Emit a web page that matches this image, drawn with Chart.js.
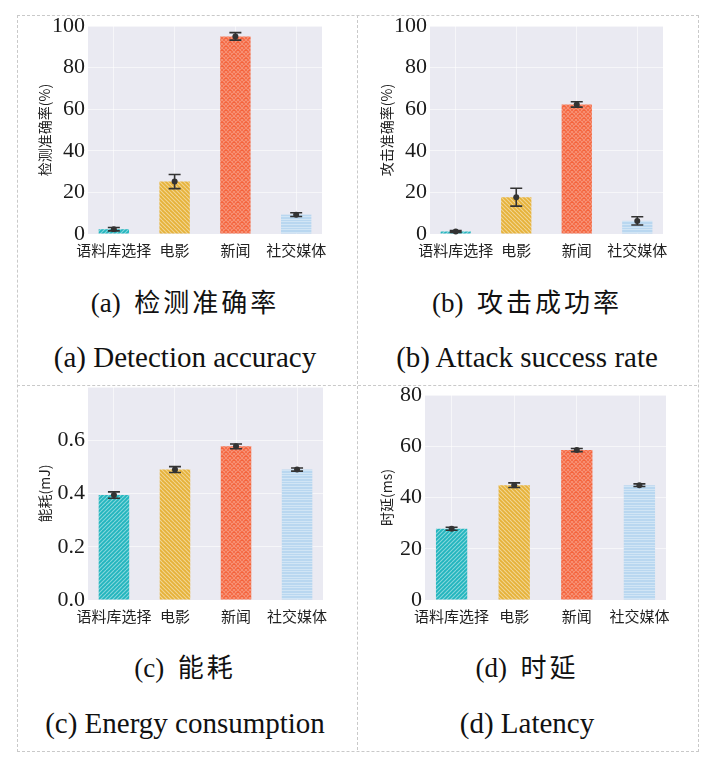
<!DOCTYPE html>
<html>
<head>
<meta charset="utf-8">
<script src="https://cdn.jsdelivr.net/npm/chart.js@4"></script>
<style>
  body { margin: 0; background: #fff; width: 708px; height: 771px; position: relative; overflow: hidden; }
  canvas { position: absolute; }
  .line { position: absolute; border: 0 dashed #c9c9c9; }
  .cap { position: absolute; width: 340px; text-align: center; color: #111; white-space: nowrap; }
  .cn { font: 27px "Liberation Serif", "Noto Sans CJK SC"; line-height: 30px; }
  .cn span { font-family: "Noto Sans CJK SC"; font-size: 26px; letter-spacing: 3px; }
  .en { font: 29px "Liberation Serif"; line-height: 32px; }
</style>
</head>
<body>
<div class="line" style="left:17px;top:15px;width:680px;height:735px;border-width:1px;"></div>
<div class="line" style="left:357px;top:15px;height:735px;border-left-width:1px;"></div>
<div class="line" style="left:17px;top:385px;width:680px;border-top-width:1px;"></div>

<canvas id="chartA"></canvas>
<canvas id="chartB"></canvas>
<canvas id="chartC"></canvas>
<canvas id="chartD"></canvas>

<div class="cap cn" style="left:15px;top:286px;">(a)&nbsp; <span>检测准确率</span></div>
<div class="cap en" style="left:15px;top:341px;">(a) Detection accuracy</div>
<div class="cap cn" style="left:357px;top:286px;">(b)&nbsp; <span>攻击成功率</span></div>
<div class="cap en" style="left:357px;top:341px;">(b) Attack success rate</div>
<div class="cap cn" style="left:15px;top:651px;">(c)&nbsp; <span>能耗</span></div>
<div class="cap en" style="left:15px;top:707px;">(c) Energy consumption</div>
<div class="cap cn" style="left:357px;top:651px;">(d)&nbsp; <span>时延</span></div>
<div class="cap en" style="left:357px;top:707px;">(d) Latency</div>

<script>
/* data */
var categories = ['语料库选择', '电影', '新闻', '社交媒体'];

var accMean = [2.3, 25.2, 95.0, 9.3];
var accErr = [0.8, 3.4, 1.8, 0.9];

var attackMean = [1.2, 17.7, 62.3, 6.3];
var attackErr = [0.4, 4.3, 1.3, 2.0];

var energyMean = [0.394, 0.490, 0.577, 0.490];
var energyErr = [0.012, 0.011, 0.009, 0.006];

var latencyMean = [27.8, 44.8, 58.5, 44.8];
var latencyErr = [0.6, 0.9, 0.6, 0.5];

var accTicks = [0, 20, 40, 60, 80, 100];
var energyTicks = [0, 0.2, 0.4, 0.6];
var latencyTicks = [0, 20, 40, 60, 80];


/* hatch fills */
function makePattern(base, kind) {
	var s = 8;
	var c = document.createElement('canvas');
	c.width = s; c.height = s;
	var g = c.getContext('2d');
	g.fillStyle = base;
	g.fillRect(0, 0, s, s);
	g.strokeStyle = 'rgba(255,255,255,0.45)';
	g.lineWidth = 1.1;
	g.beginPath();
	if (kind === '/' || kind === '\\') {
		for (var k = -s; k <= s; k += s / 2) {
			if (kind === '/') { g.moveTo(k, s); g.lineTo(k + s, 0); }
			else { g.moveTo(k, 0); g.lineTo(k + s, s); }
		}
	} else if (kind === 'x') {
		g.strokeStyle = 'rgba(255,255,255,0.3)';
		for (var k = -s; k <= s; k += s / 2) {
			g.moveTo(k, s); g.lineTo(k + s, 0);
			g.moveTo(k, 0); g.lineTo(k + s, s);
		}
	} else if (kind === '-') {
		g.strokeStyle = 'rgba(255,255,255,0.35)';
		for (var y = 1.5; y < s; y += 3) { g.moveTo(0, y); g.lineTo(s, y); }
	}
	g.stroke();
	var ctx = document.createElement('canvas').getContext('2d');
	return ctx.createPattern(c, 'repeat');
}

var barFills = [
	makePattern('#22b5be', '/'),
	makePattern('#e6b239', '\\'),
	makePattern('#f4623a', 'x'),
	makePattern('#b9d7f0', '-')
];


/* plot background */
var bgPlugin = {
	id: 'plotBg',
	beforeDraw: function(chart) {
		var a = chart.chartArea, ctx = chart.ctx;
		ctx.save();
		ctx.fillStyle = '#eaeaf2';
		ctx.fillRect(a.left, a.top, a.right - a.left, a.bottom - a.top);
		ctx.restore();
	}
};

/* error bars with a dot at the mean */
var errPlugin = {
	id: 'errBars',
	afterDatasetsDraw: function(chart) {
		var ctx = chart.ctx;
		var yScale = chart.scales.y;
		chart.data.datasets.forEach(function(ds, i) {
			if (!ds.errs) return;
			var meta = chart.getDatasetMeta(i);
			meta.data.forEach(function(el, j) {
				var v = ds.data[j].y, e = ds.errs[j];
				var x = el.x;
				var yt = yScale.getPixelForValue(v + e);
				var yb = yScale.getPixelForValue(v - e);
				var ym = yScale.getPixelForValue(v);
				ctx.save();
				ctx.strokeStyle = '#333';
				ctx.lineWidth = 1.6;
				ctx.beginPath();
				ctx.moveTo(x, yt); ctx.lineTo(x, yb);
				ctx.moveTo(x - 6, yt); ctx.lineTo(x + 6, yt);
				ctx.moveTo(x - 6, yb); ctx.lineTo(x + 6, yb);
				ctx.stroke();
				ctx.fillStyle = '#333';
				ctx.beginPath();
				ctx.arc(x, ym, 3, 0, Math.PI * 2);
				ctx.fill();
				ctx.restore();
			});
		});
	}
};


function buildPanel(id, box, plot, means, errs, yMax, yTicks, yTitle, hideTop) {
	var cv = document.getElementById(id);
	cv.width = box.w; cv.height = box.h;
	cv.style.left = box.x + 'px'; cv.style.top = box.y + 'px';
	cv.style.width = box.w + 'px'; cv.style.height = box.h + 'px';

	var points = means.map(function(v, i) { return { x: i, y: v }; });

	return new Chart(cv, {
		type: 'bar',
		data: {
			datasets: [{
				data: points,
				errs: errs,
				backgroundColor: barFills,
				borderWidth: 0,
				categoryPercentage: 1,
				barPercentage: 0.5
			}]
		},
		options: {
			responsive: false,
			animation: false,
			devicePixelRatio: 1,
			layout: {
				padding: {
					left: 0,
					top: plot.t - box.y,
					right: box.x + box.w - plot.r,
					bottom: 0
				}
			},
			plugins: { legend: { display: false }, tooltip: { enabled: false } },
			scales: {
				x: {
					type: 'linear',
					min: -0.425,
					max: 3.425,
					offset: false,
					afterBuildTicks: function(s) {
						s.ticks = categories.map(function(c, i) { return { value: i }; });
					},
					afterFit: function(s) {
						s.height = box.y + box.h - plot.b;
						s.paddingLeft = 0; s.paddingRight = 0;
					},
					grid: { color: 'rgba(255,255,255,0.55)', lineWidth: 1, drawTicks: false, offset: false },
					border: { display: false },
					ticks: {
						padding: 7,
						color: '#222',
						font: { family: 'Noto Sans CJK SC', size: 15 },
						callback: function(v) { return categories[v]; },
						maxRotation: 0,
						autoSkip: false
					}
				},
				y: {
					min: 0,
					max: yMax,
					afterBuildTicks: function(s) {
						s.ticks = yTicks.map(function(v) { return { value: v }; });
						if (hideTop) s.ticks.push({ value: yMax });
					},
					afterFit: function(s) {
						s.width = plot.l - box.x;
						s.paddingTop = 0; s.paddingBottom = 0;
					},
					grid: { color: 'rgba(255,255,255,0.55)', lineWidth: 1, drawTicks: false },
					border: { display: false },
					ticks: {
						padding: 3,
						color: '#1a1a1a',
						font: { family: 'Liberation Serif', size: 22 },
						callback: function(v) {
							if (hideTop && v === yMax) return '';
							return yMax < 1 ? v.toFixed(1) : v;
						}
					},
					title: {
						display: true,
						text: yTitle,
						color: '#222',
						padding: { top: 6, bottom: 0 },
						font: { family: 'Noto Sans CJK SC', size: 14 }
					}
				}
			}
		},
		plugins: [bgPlugin, errPlugin]
	});
}

buildPanel('chartA', { x: 30, y: 12, w: 325, h: 255 }, { l: 88, r: 322, t: 26, b: 234 },
	accMean, accErr, 100, accTicks, '检测准确率(%)', false);
buildPanel('chartB', { x: 372, y: 12, w: 323, h: 255 }, { l: 430, r: 663, t: 26, b: 234 },
	attackMean, attackErr, 100, accTicks, '攻击准确率(%)', false);
buildPanel('chartC', { x: 30, y: 386, w: 325, h: 244 }, { l: 88, r: 323, t: 387, b: 600 },
	energyMean, energyErr, 0.8, energyTicks, '能耗(mJ)', true);
buildPanel('chartD', { x: 372, y: 386, w: 323, h: 244 }, { l: 425, r: 666, t: 395, b: 600 },
	latencyMean, latencyErr, 80, latencyTicks, '时延(ms)', false);
</script>
</body>
</html>
